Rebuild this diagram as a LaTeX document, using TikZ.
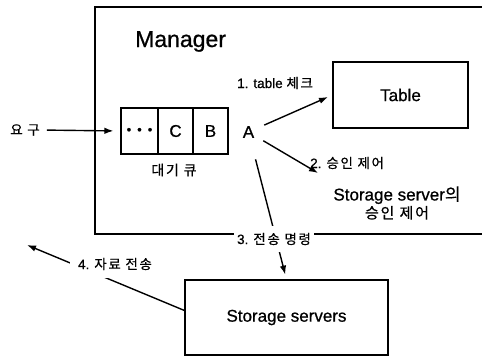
\documentclass[tikz,border=0pt]{standalone}
\usepackage{fontspec}
\setmainfont{Liberation Sans}[FakeBold=0.8]
\newfontfamily\kor{Noto Sans CJK KR}[LetterSpace=12,FakeBold=0.6]
\usetikzlibrary{arrows.meta}
\begin{document}
\begin{tikzpicture}[x=1pt,y=-1pt,
  box/.style={draw, line width=1.1pt, inner sep=0pt},
  arr/.style={-{Latex[length=9pt,width=6.5pt]}, line width=1.4pt},
  lbl/.style={font=\fontsize{13.5}{16}\selectfont, inner sep=0pt},
  big/.style={font=\fontsize{17}{20}\selectfont},
  frame/.style={line width=1.1pt}]
\useasboundingbox (0,0) rectangle (482,357);
% manager frame
\draw[frame] (482,7) -- (95,7) -- (95,234) -- (482,234);
\node[anchor=base west, font=\fontsize{23}{26}\selectfont, inner sep=0pt] (mgr) at (135,47) {Manager};
% table
\node[box, big, minimum width=135pt, minimum height=66pt] (tbl) at (400.5,95) {Table};
% queue
\node[box, big, minimum width=37pt, minimum height=46pt] (q1) at (139.5,131) {{\fontsize{13}{13}\selectfont •\kern6pt•\kern6pt•}};
\node[box, big, minimum width=35pt, minimum height=46pt] (q2) at (175.5,131) {C};
\node[box, big, minimum width=35pt, minimum height=46pt] (q3) at (210.5,131) {B};
\node[font=\kor\fontsize{14}{16}\selectfont, inner sep=0pt] (qlbl) at (174,170) {대기 큐};
\node[big, circle, minimum size=34pt, inner sep=0pt] (A) at (248.5,132) {A};
% request
\node[font=\kor\fontsize{13.5}{16}\selectfont, inner sep=0pt] (req) at (25,130) {요 구};
\draw[arr, shorten <=7pt, shorten >=7pt] (req.east) -- (q1.west);
% storage servers
\node[box, big, minimum width=203pt, minimum height=75pt] (sto) at (286.5,317.5) {Storage servers};
% admission text
\node[align=center, inner sep=0pt] (adm) at (397,203)
  {\fontsize{17}{20}\selectfont Storage server{\kor 의}\\[1pt]{\kor\fontsize{15}{18}\selectfont 승인 제어}};
% arrows
\coordinate (e1) at (328,97);
\coordinate (e2) at (318,173);
\coordinate (e4) at (27,245);
\draw[arr] (A) -- (e1);
\node[lbl, anchor=base west] (l1) at (237,88) {1. table {\kor 체크}};
\draw[arr] (A) -- (e2);
\node[lbl, anchor=base west] (l2) at (310,168) {2. {\kor 승인 제어}};
\draw[arr, shorten <=11pt, shorten >=5pt] (A) -- (sto.north);
\node[lbl, fill=white, inner xsep=3pt, inner ysep=7pt] (l3) at (274,239) {3. {\kor 전송 명령}};
\draw[arr] ([yshift=7pt]sto.west) -- (e4);
\node[lbl, fill=white, inner xsep=8pt, inner ysep=8pt] (l4) at (115,264) {4. {\kor 자료 전송}};
\end{tikzpicture}
\end{document}
